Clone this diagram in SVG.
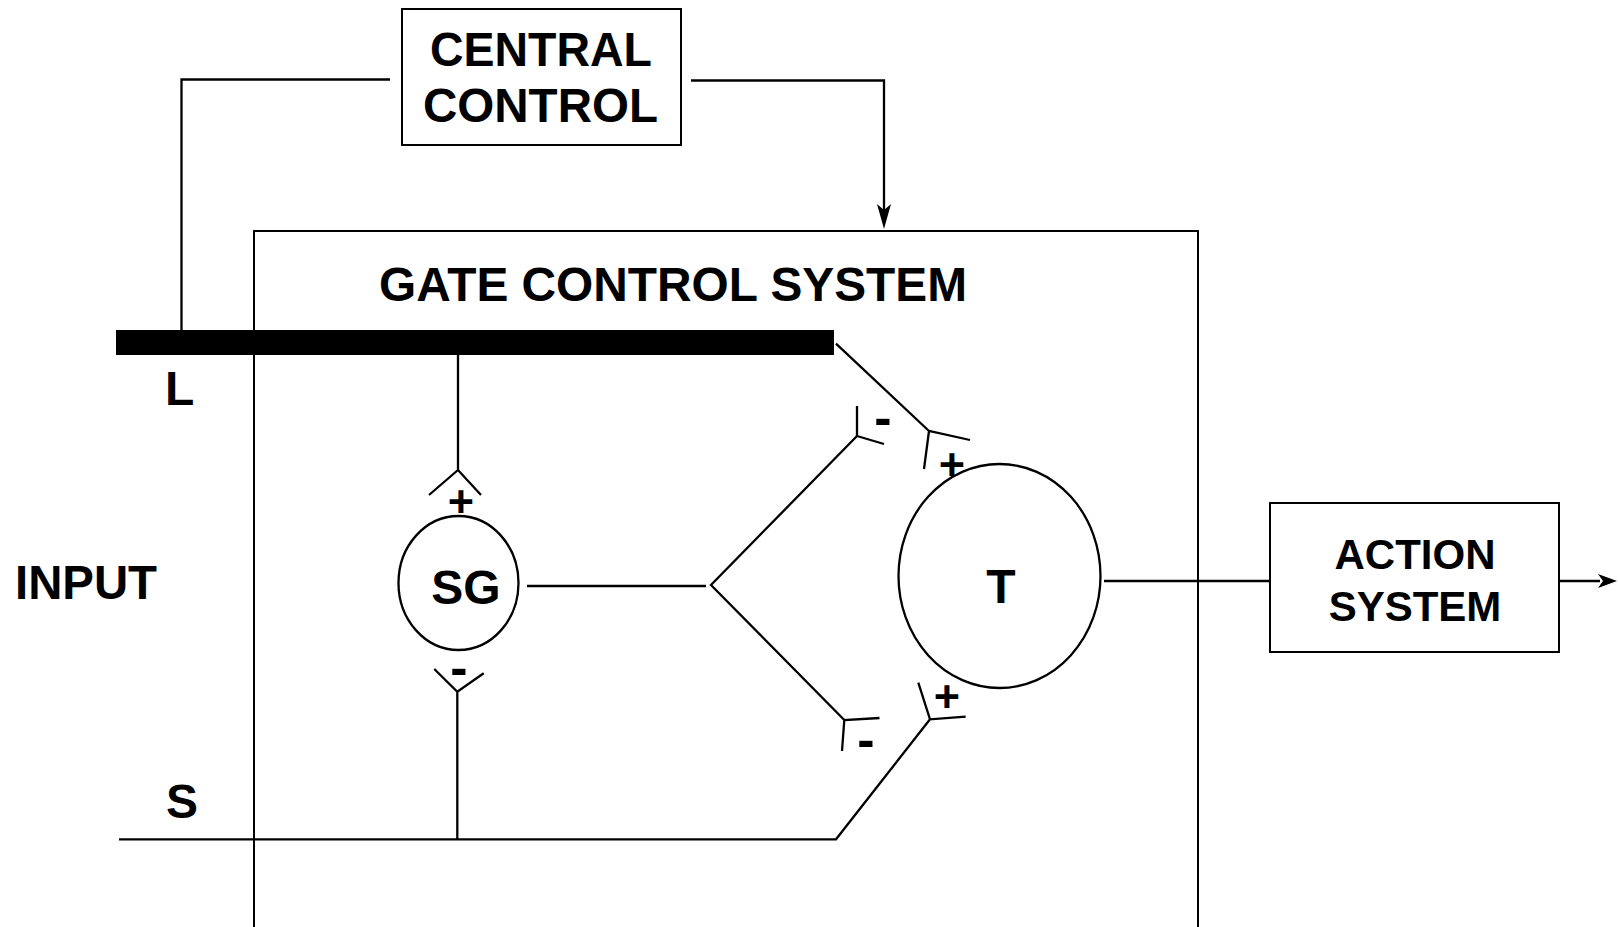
<svg xmlns="http://www.w3.org/2000/svg" width="1618" height="927" viewBox="0 0 1618 927">
<style>
text{font-family:"Liberation Sans",Arial,Helvetica,sans-serif;font-weight:bold;fill:#000}
.lbl{font-size:48px}
.act{font-size:42px}
.pl{font-size:45px}
.mi{font-size:52px}
.ln{fill:none;stroke:#000;stroke-width:2.3}
.box{fill:none;stroke:#000;stroke-width:2}
</style>
<rect width="1618" height="927" fill="#fff"/>
<g id="gate-control-system">
<rect class="box" x="254" y="231" width="944" height="710"/>
<text class="lbl" x="379" y="301" textLength="588" lengthAdjust="spacingAndGlyphs">GATE CONTROL SYSTEM</text>
</g>
<g id="central-control">
<rect class="box" x="402" y="9" width="279" height="136"/>
<text class="lbl" x="430" y="66" textLength="222" lengthAdjust="spacingAndGlyphs">CENTRAL</text>
<text class="lbl" x="423" y="122" textLength="235" lengthAdjust="spacingAndGlyphs">CONTROL</text>
</g>
<g id="action-system">
<rect class="box" x="1270" y="503" width="289" height="149"/>
<text class="act" x="1415" y="569" text-anchor="middle">ACTION</text>
<text class="act" x="1415" y="621" text-anchor="middle">SYSTEM</text>
</g>
<g id="sg">
<ellipse class="ln" cx="458.5" cy="583" rx="60" ry="67"/>
<text class="lbl" x="466" y="604" text-anchor="middle">SG</text>
</g>
<g id="t">
<ellipse class="ln" cx="999.5" cy="576" rx="101" ry="112"/>
<text class="lbl" x="1001" y="603" text-anchor="middle">T</text>
</g>
<g id="input-labels">
<text class="lbl" x="15" y="599" textLength="142" lengthAdjust="spacingAndGlyphs">INPUT</text>
<text class="lbl" x="165" y="405">L</text>
<text class="lbl" x="166" y="818">S</text>
</g>
<g id="connectors">
<rect id="l-fibre" x="116" y="330" width="718" height="25" fill="#000"/>
<path class="ln" d="M181.5 330 V79.5 H390"/>
<path class="ln" d="M691 80.5 H884 V212"/>
<path d="M884 229 L877 204 L884 210 L891 204 Z" fill="#000"/>
<path class="ln" d="M458 355 V470 M429 495 L458 470 L481 495"/>
<path class="ln" d="M119 839.3 H836 L930 719.3 M918.3 682.7 L930 719.3 L965.7 716.7"/>
<path class="ln" d="M457.3 839.3 V691.7 M434.3 669 L457.3 691.7 L483.7 673.3"/>
<path class="ln" d="M527 586 H706"/>
<path class="ln" d="M857 436 L711 585 L844.3 720 M842 751 L844.3 720 L879.5 718"/>
<path class="ln" d="M857 406 V436 L884 444"/>
<path class="ln" d="M836 343.6 L929 431 M924 469 L929 431 L970 440"/>
<path class="ln" d="M1104 581 H1270 M1559 581 H1600"/>
<path d="M1617 581 L1598 574 L1603 581 L1598 588 Z" fill="#000"/>
<text class="pl" x="461" y="517" text-anchor="middle">+</text>
<text class="mi" x="459" y="685" text-anchor="middle">-</text>
<text class="mi" x="883" y="435" text-anchor="middle">-</text>
<text class="pl" x="952" y="480" text-anchor="middle">+</text>
<text class="mi" x="866" y="757" text-anchor="middle">-</text>
<text class="pl" x="947" y="712" text-anchor="middle">+</text>
</g>
</svg>
